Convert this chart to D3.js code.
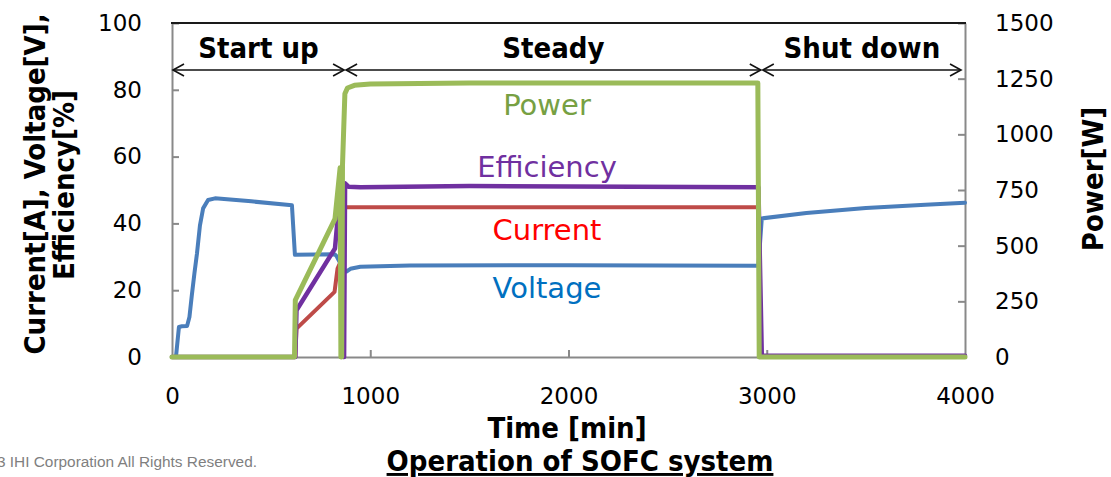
<!DOCTYPE html>
<html>
<head>
<meta charset="utf-8">
<script src="https://cdn.jsdelivr.net/npm/d3@7"></script>
<style>
  html, body { margin: 0; padding: 0; background: #fff; }
  svg { display: block; }
</style>
</head>
<body>
<svg id="chart" width="1111" height="477"></svg>
<script>
// ---- data: [time (min), value] ----
const voltage = [
  [0, 0], [20, 0], [35, 9], [50, 9.2], [76, 9.3], [88, 12], [100, 18.5], [113, 25],
  [126, 31], [141, 39.4], [157, 44.5], [182, 47], [217, 47.5], [400, 46.6], [605, 45.4],
  [620, 30.6], [820, 30.8], [830, 30.2], [845, 28.5], [870, 26], [880, 25.6],
  [900, 26.4], [950, 27], [1200, 27.4], [2000, 27.5], [2958, 27.3],
  [2975, 41.5], [3200, 43.1], [3500, 44.6], [3800, 45.6], [4000, 46.2]
];
const current = [
  [0, 0], [622, 0], [628, 8.5], [820, 19.5], [835, 26.5], [850, 28.5],
  [872, 44.8], [900, 44.8], [2000, 44.8], [2958, 44.8], [2965, 0], [4000, 0]
];
const efficiency = [
  [0, 0], [622, 0], [628, 14], [822, 32.5], [835, 41], [858, 44], [864, 0],
  [868, 0], [873, 52], [890, 51], [950, 50.8], [1500, 51.2], [2958, 50.8],
  [2975, 0.4], [4000, 0.4]
];
const power = [
  [0, 0], [618, 0], [622, 255], [822, 620], [848, 850], [852, 0], [856, 0],
  [860, 860], [872, 1182], [885, 1208], [920, 1220], [1000, 1226], [1500, 1230],
  [2955, 1230], [2962, 0], [4000, 0]
];

const timeTicks = [0, 1000, 2000, 3000, 4000];
const leftTicks = [0, 20, 40, 60, 80, 100];
const rightTicks = [0, 250, 500, 750, 1000, 1250, 1500];

const phaseNames = ["Start up", "Steady", "Shut down"];
const phaseBounds = [0, 873, 2975, 3985];

const seriesNames = ["Power", "Efficiency", "Current", "Voltage"];

// ---- layout ----
const svg = d3.select("#chart");
const x = d3.scaleLinear().domain([0, 4000]).range([172, 965]);
const yL = d3.scaleLinear().domain([0, 100]).range([357, 23]);
const yR = d3.scaleLinear().domain([0, 1500]).range([357, 23]);

const axisGray = "#898989";
const tickFont = "DejaVu Sans, Verdana, sans-serif";
const boldFont = "'DejaVu Sans Condensed', 'DejaVu Sans', sans-serif";
const plain = d3.format("d");

// axes
function styleAxis(g) {
  g.select(".domain").attr("stroke", axisGray).attr("stroke-width", 2);
  g.selectAll(".tick line").attr("stroke", axisGray).attr("stroke-width", 2);
  g.selectAll(".tick text").attr("fill", "#000")
    .style("font-family", tickFont).style("font-size", "23px");
}

svg.append("g")
  .attr("transform", `translate(0,${yL(0)})`)
  .call(d3.axisBottom(x).tickValues(timeTicks).tickFormat(plain)
    .tickSize(-7).tickSizeOuter(0).tickPadding(31))
  .call(styleAxis)
  .call(g => g.selectAll(".tick").filter(d => d === 0 || d === 4000).select("line").remove());

svg.append("g")
  .attr("transform", `translate(${x(0)},0)`)
  .call(d3.axisLeft(yL).tickValues(leftTicks).tickFormat(plain)
    .tickSize(-7).tickSizeOuter(0).tickPadding(30))
  .call(styleAxis);

svg.append("g")
  .attr("transform", `translate(${x(4000)},0)`)
  .call(d3.axisRight(yR).tickValues(rightTicks).tickFormat(plain)
    .tickSize(-7).tickSizeOuter(0).tickPadding(30))
  .call(styleAxis);

// top border of the plot
svg.append("line")
  .attr("x1", x(0) - 1).attr("x2", x(4000) + 1)
  .attr("y1", yL(100)).attr("y2", yL(100))
  .attr("stroke", "#1a1a1a").attr("stroke-width", 2);

// ---- series lines ----
const lineL = d3.line().x(d => x(d[0])).y(d => yL(d[1]));
const lineR = d3.line().x(d => x(d[0])).y(d => yR(d[1]));

const lines = [
  { data: voltage, gen: lineL, color: "#4A7EBB", w: 4 },
  { data: current, gen: lineL, color: "#BE4B48", w: 4 },
  { data: efficiency, gen: lineL, color: "#7030A0", w: 4.5 },
  { data: power, gen: lineR, color: "#9BBB59", w: 5 }
];
lines.forEach(s => {
  svg.append("path")
    .attr("d", s.gen(s.data))
    .attr("fill", "none")
    .attr("stroke", s.color)
    .attr("stroke-width", s.w)
    .attr("stroke-linejoin", "round")
    .attr("stroke-linecap", "round");
});

// series labels
const labelColors = ["#77A043", "#7030A0", "#FF0000", "#0070C0"];
const labelY = [115, 177, 240, 298];
seriesNames.forEach((n, i) => {
  svg.append("text")
    .attr("x", 547).attr("y", labelY[i])
    .attr("text-anchor", "middle")
    .attr("fill", labelColors[i])
    .style("font-family", tickFont).style("font-size", "29px")
    .text(n);
});

// ---- phase arrows ----
const arrowY = 70;
const phases = svg.append("g").attr("stroke", "#111").attr("stroke-width", 1.6).attr("fill", "none");
for (let i = 0; i < phaseNames.length; i++) {
  const a = x(phaseBounds[i]) + 1, b = x(phaseBounds[i + 1]) - 1;
  phases.append("line").attr("x1", a).attr("x2", b).attr("y1", arrowY).attr("y2", arrowY);
  phases.append("path").attr("d", `M${a + 11},${arrowY - 6}L${a},${arrowY}L${a + 11},${arrowY + 6}`);
  phases.append("path").attr("d", `M${b - 11},${arrowY - 6}L${b},${arrowY}L${b - 11},${arrowY + 6}`);
  svg.append("text")
    .attr("x", (a + b) / 2).attr("y", 58)
    .attr("text-anchor", "middle")
    .style("font-family", boldFont).style("font-weight", "bold").style("font-size", "29px")
    .text(phaseNames[i]);
}

// ---- titles ----
svg.append("text")
  .attr("transform", "translate(45,184) rotate(-90)")
  .attr("text-anchor", "middle")
  .style("font-family", boldFont).style("font-weight", "bold").style("font-size", "29px")
  .text("Current[A], Voltage[V],");
svg.append("text")
  .attr("transform", "translate(74,185) rotate(-90)")
  .attr("text-anchor", "middle")
  .style("font-family", boldFont).style("font-weight", "bold").style("font-size", "29px")
  .text("Efficiency[%]");
svg.append("text")
  .attr("transform", "translate(1103,179) rotate(-90)")
  .attr("text-anchor", "middle")
  .style("font-family", boldFont).style("font-weight", "bold").style("font-size", "29px")
  .text("Power[W]");

svg.append("text")
  .attr("x", 567).attr("y", 438)
  .attr("text-anchor", "middle")
  .style("font-family", boldFont).style("font-weight", "bold").style("font-size", "29px")
  .text("Time [min]");
svg.append("text")
  .attr("x", 580).attr("y", 471)
  .attr("text-anchor", "middle")
  .style("font-family", boldFont).style("font-weight", "bold").style("font-size", "29px")
  .style("text-decoration", "underline")
  .text("Operation of SOFC system");

svg.append("text")
  .attr("x", 257).attr("y", 467)
  .attr("text-anchor", "end")
  .attr("fill", "#7f7f7f")
  .style("font-family", "'Liberation Sans', Arial, sans-serif").style("font-size", "15.4px")
  .text("©2013 IHI Corporation All Rights Reserved.");
</script>
</body>
</html>
